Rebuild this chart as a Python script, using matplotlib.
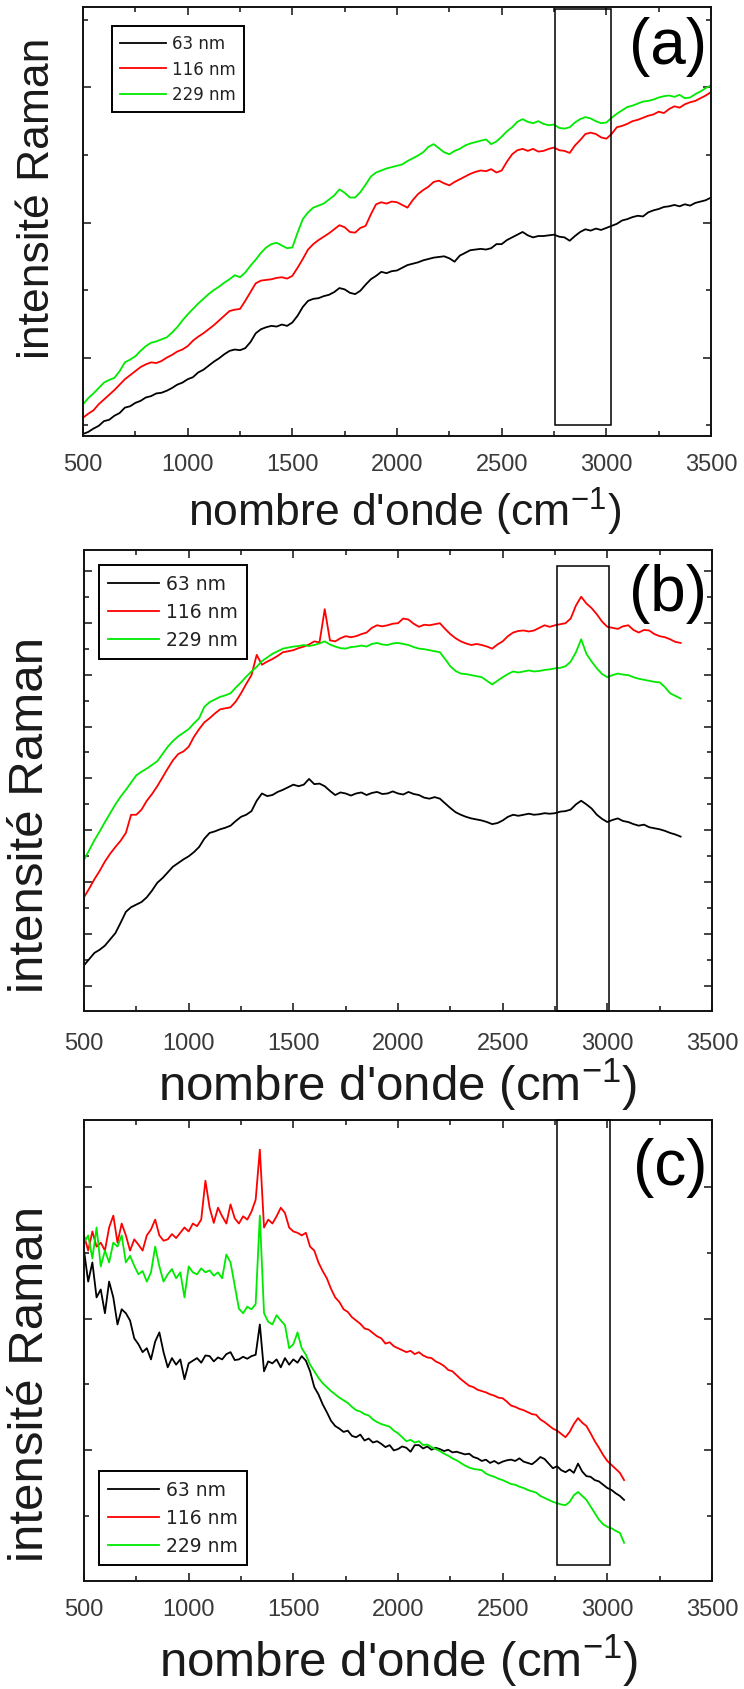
import numpy as np
import matplotlib
matplotlib.use("Agg")
import matplotlib.pyplot as plt
from matplotlib.patches import Rectangle
from matplotlib.ticker import FixedLocator, NullFormatter

plt.rcParams['font.family'] = ['Liberation Sans', 'DejaVu Sans']
plt.rcParams['mathtext.fontset'] = 'custom'
plt.rcParams['mathtext.rm'] = 'Liberation Sans'
plt.rcParams['mathtext.it'] = 'Liberation Sans:italic'
plt.rcParams['mathtext.bf'] = 'Liberation Sans:bold'

# ---------------------------------------------------------------- data
series_labels = ['63 nm', '116 nm', '229 nm']
series_colors = ['#000000', '#ff0000', '#00ea00']

x_ticks = [500, 1000, 1500, 2000, 2500, 3000, 3500]
x_tick_labels = ['500', '1000', '1500', '2000', '2500', '3000', '3500']
x_minor_ticks = [750, 1250, 1750, 2250, 2750, 3250]

# panel (a): spectra sampled every 25 cm-1 from 500 cm-1
a_start, a_step = 500, 25
a_63 = [-0.13, -0.10, -0.05, -0.01, 0.06, 0.08, 0.14, 0.18, 0.26, 0.28,
        0.33, 0.36, 0.41, 0.43, 0.47, 0.48, 0.51, 0.55, 0.60, 0.63,
        0.68, 0.71, 0.78, 0.82, 0.88, 0.94, 0.99, 1.05, 1.10, 1.12,
        1.11, 1.14, 1.23, 1.36, 1.42, 1.45, 1.47, 1.46, 1.49, 1.47,
        1.52, 1.62, 1.75, 1.84, 1.87, 1.88, 1.91, 1.93, 1.97, 2.03,
        2.01, 1.96, 1.94, 1.99, 2.08, 2.16, 2.21, 2.27, 2.25, 2.28,
        2.29, 2.33, 2.37, 2.39, 2.41, 2.44, 2.46, 2.48, 2.49, 2.50,
        2.47, 2.42, 2.51, 2.55, 2.59, 2.60, 2.61, 2.60, 2.62, 2.68,
        2.68, 2.74, 2.78, 2.82, 2.86, 2.81, 2.78, 2.80, 2.80, 2.81,
        2.82, 2.79, 2.78, 2.73, 2.80, 2.86, 2.90, 2.88, 2.91, 2.89,
        2.92, 2.95, 2.98, 3.03, 3.05, 3.08, 3.10, 3.09, 3.15, 3.18,
        3.20, 3.23, 3.24, 3.26, 3.24, 3.27, 3.25, 3.29, 3.31, 3.33, 3.37]
a_116 = [0.11, 0.17, 0.22, 0.31, 0.38, 0.45, 0.52, 0.60, 0.68, 0.74,
         0.80, 0.86, 0.90, 0.93, 0.92, 0.95, 1.00, 1.04, 1.09, 1.12,
         1.17, 1.25, 1.31, 1.36, 1.42, 1.48, 1.55, 1.62, 1.69, 1.71,
         1.72, 1.84, 1.97, 2.10, 2.14, 2.15, 2.16, 2.18, 2.19, 2.17,
         2.21, 2.33, 2.46, 2.60, 2.68, 2.74, 2.79, 2.84, 2.90, 2.96,
         2.93, 2.86, 2.85, 2.92, 2.95, 3.12, 3.27, 3.30, 3.28, 3.31,
         3.30, 3.26, 3.22, 3.33, 3.42, 3.48, 3.53, 3.60, 3.62, 3.58,
         3.55, 3.60, 3.64, 3.68, 3.72, 3.75, 3.77, 3.76, 3.79, 3.74,
         3.77, 3.90, 4.01, 4.07, 4.09, 4.06, 4.09, 4.05, 4.06, 4.09,
         4.11, 4.07, 4.06, 4.03, 4.14, 4.22, 4.31, 4.33, 4.31, 4.26,
         4.24, 4.31, 4.41, 4.43, 4.46, 4.50, 4.52, 4.55, 4.58, 4.60,
         4.64, 4.62, 4.68, 4.72, 4.70, 4.75, 4.78, 4.80, 4.84, 4.88, 4.93]
a_229 = [0.31, 0.40, 0.47, 0.55, 0.63, 0.67, 0.70, 0.80, 0.93, 0.97,
         1.02, 1.10, 1.17, 1.22, 1.24, 1.27, 1.30, 1.37, 1.45, 1.55,
         1.64, 1.72, 1.80, 1.87, 1.94, 2.00, 2.05, 2.11, 2.16, 2.22,
         2.19, 2.26, 2.36, 2.45, 2.55, 2.63, 2.68, 2.70, 2.66, 2.62,
         2.63, 2.85, 3.05, 3.15, 3.22, 3.25, 3.28, 3.34, 3.40, 3.49,
         3.44, 3.37, 3.37, 3.45, 3.56, 3.68, 3.74, 3.77, 3.80, 3.82,
         3.84, 3.86, 3.91, 3.95, 3.99, 4.04, 4.12, 4.16, 4.10, 4.04,
         4.01, 4.06, 4.09, 4.14, 4.17, 4.19, 4.21, 4.23, 4.16, 4.20,
         4.27, 4.35, 4.41, 4.49, 4.53, 4.49, 4.47, 4.50, 4.46, 4.44,
         4.45, 4.40, 4.39, 4.41, 4.48, 4.53, 4.56, 4.54, 4.50, 4.47,
         4.48, 4.55, 4.61, 4.66, 4.71, 4.73, 4.76, 4.79, 4.80, 4.82,
         4.85, 4.87, 4.88, 4.86, 4.89, 4.84, 4.85, 4.90, 4.94, 4.99, 5.03]

# panel (b): spectra sampled every 25 cm-1 from 500 cm-1
b_start, b_step = 500, 25
b_63 = [0.40, 0.52, 0.64, 0.70, 0.78, 0.90, 1.02, 1.22, 1.43, 1.52,
        1.57, 1.62, 1.71, 1.84, 1.99, 2.08, 2.19, 2.30, 2.37, 2.44,
        2.50, 2.58, 2.68, 2.84, 2.95, 2.98, 3.02, 3.05, 3.09, 3.18,
        3.26, 3.30, 3.37, 3.57, 3.71, 3.66, 3.68, 3.74, 3.78, 3.83,
        3.88, 3.85, 3.88, 3.99, 3.89, 3.90, 3.85, 3.76, 3.68, 3.73,
        3.71, 3.67, 3.71, 3.73, 3.68, 3.72, 3.74, 3.70, 3.71, 3.75,
        3.71, 3.69, 3.74, 3.70, 3.68, 3.63, 3.61, 3.64, 3.61, 3.52,
        3.43, 3.35, 3.30, 3.26, 3.23, 3.21, 3.19, 3.16, 3.12, 3.14,
        3.19, 3.26, 3.30, 3.28, 3.30, 3.32, 3.30, 3.31, 3.33, 3.32,
        3.33, 3.36, 3.37, 3.40, 3.50, 3.57, 3.50, 3.42, 3.30, 3.22,
        3.16, 3.20, 3.23, 3.18, 3.16, 3.12, 3.09, 3.11, 3.06, 3.04,
        3.02, 2.99, 2.95, 2.92, 2.88]
b_116 = [1.71, 1.88, 2.06, 2.22, 2.40, 2.55, 2.68, 2.80, 2.95, 3.30,
         3.30, 3.40, 3.57, 3.70, 3.85, 4.02, 4.19, 4.35, 4.47, 4.52,
         4.61, 4.80, 4.95, 5.08, 5.16, 5.25, 5.33, 5.35, 5.37, 5.48,
         5.64, 5.82, 5.99, 6.38, 6.19, 6.25, 6.30, 6.36, 6.43, 6.45,
         6.47, 6.51, 6.54, 6.58, 6.64, 6.62, 7.26, 6.66, 6.64, 6.70,
         6.74, 6.72, 6.74, 6.78, 6.81, 6.90, 6.95, 6.93, 6.95, 6.98,
         6.99, 7.08, 7.06, 6.98, 6.92, 6.96, 6.95, 6.97, 6.99, 6.88,
         6.78, 6.70, 6.64, 6.60, 6.57, 6.59, 6.57, 6.54, 6.50, 6.58,
         6.64, 6.74, 6.81, 6.84, 6.85, 6.83, 6.85, 6.90, 6.95, 6.92,
         6.95, 6.97, 6.99, 7.08, 7.33, 7.50, 7.37, 7.28, 7.16, 7.02,
         6.92, 6.90, 6.88, 6.93, 6.95, 6.86, 6.81, 6.86, 6.85, 6.78,
         6.74, 6.72, 6.68, 6.63, 6.61]
b_229 = [2.43, 2.62, 2.81, 2.98, 3.16, 3.33, 3.50, 3.65, 3.78, 3.92,
         4.06, 4.13, 4.19, 4.26, 4.33, 4.47, 4.61, 4.72, 4.81, 4.88,
         4.95, 5.06, 5.16, 5.38, 5.47, 5.52, 5.57, 5.60, 5.64, 5.75,
         5.85, 5.96, 6.06, 6.15, 6.26, 6.33, 6.40, 6.45, 6.50, 6.52,
         6.54, 6.55, 6.57, 6.55, 6.57, 6.60, 6.64, 6.58, 6.54, 6.51,
         6.50, 6.53, 6.54, 6.56, 6.54, 6.59, 6.61, 6.58, 6.57, 6.60,
         6.61, 6.59, 6.57, 6.53, 6.50, 6.49, 6.47, 6.45, 6.43, 6.30,
         6.16, 6.07, 6.02, 6.01, 5.99, 5.97, 5.95, 5.88, 5.81, 5.88,
         5.95, 6.01, 6.06, 6.04, 6.06, 6.08, 6.06, 6.07, 6.09, 6.10,
         6.12, 6.13, 6.16, 6.25, 6.43, 6.68, 6.40, 6.25, 6.12, 6.01,
         5.95, 5.99, 6.02, 6.00, 5.99, 5.95, 5.92, 5.90, 5.88, 5.86,
         5.85, 5.76, 5.64, 5.59, 5.54]

# panel (c): spectra sampled every 20 cm-1 from 500 cm-1
c_start, c_step = 500, 20
c_63 = [4.03, 3.56, 3.85, 3.32, 3.44, 3.08, 3.56, 3.32, 2.91, 3.14,
        3.08, 2.97, 2.70, 2.61, 2.49, 2.55, 2.38, 2.65, 2.79, 2.49,
        2.26, 2.40, 2.30, 2.38, 2.08, 2.32, 2.36, 2.40, 2.33, 2.44,
        2.43, 2.35, 2.41, 2.38, 2.46, 2.49, 2.37, 2.38, 2.42, 2.39,
        2.43, 2.45, 2.91, 2.20, 2.35, 2.32, 2.38, 2.26, 2.40, 2.30,
        2.38, 2.33, 2.43, 2.36, 2.20, 1.96, 1.85, 1.70, 1.58, 1.45,
        1.37, 1.33, 1.28, 1.30, 1.22, 1.20, 1.24, 1.15, 1.18, 1.12,
        1.14, 1.10, 1.05, 1.08, 1.00, 1.02, 1.06, 1.04, 0.98, 1.08,
        1.08, 1.03, 1.06, 1.01, 1.04, 1.02, 0.99, 1.01, 0.97, 0.98,
        0.96, 0.94, 0.95, 0.90, 0.88, 0.84, 0.86, 0.81, 0.84, 0.80,
        0.83, 0.85, 0.86, 0.84, 0.88, 0.83, 0.81, 0.79, 0.84, 0.90,
        0.87, 0.80, 0.73, 0.76, 0.70, 0.67, 0.71, 0.66, 0.80, 0.68,
        0.61, 0.60, 0.55, 0.53, 0.48, 0.43, 0.40, 0.35, 0.31, 0.25]
c_116 = [4.26, 4.03, 4.32, 4.09, 4.15, 4.03, 4.38, 4.56, 4.15, 4.44,
         4.26, 4.03, 4.20, 4.12, 4.03, 4.26, 4.35, 4.50, 4.26, 4.18,
         4.20, 4.28, 4.22, 4.30, 4.38, 4.32, 4.44, 4.40, 4.50, 5.09,
         4.68, 4.45, 4.68, 4.55, 4.44, 4.73, 4.52, 4.44, 4.55, 4.50,
         4.62, 4.80, 5.56, 4.38, 4.50, 4.44, 4.55, 4.68, 4.60, 4.38,
         4.32, 4.30, 4.26, 4.30, 4.09, 4.03, 3.85, 3.72, 3.61, 3.45,
         3.32, 3.25, 3.14, 3.10, 3.02, 2.97, 2.92, 2.85, 2.83, 2.78,
         2.73, 2.70, 2.62, 2.64, 2.58, 2.55, 2.52, 2.49, 2.51, 2.46,
         2.49, 2.44, 2.41, 2.40, 2.35, 2.32, 2.28, 2.22, 2.20, 2.14,
         2.08, 2.03, 1.98, 1.96, 1.92, 1.90, 1.88, 1.85, 1.83, 1.80,
         1.79, 1.74, 1.68, 1.66, 1.63, 1.61, 1.58, 1.55, 1.54, 1.47,
         1.43, 1.38, 1.33, 1.30, 1.25, 1.20, 1.28, 1.40, 1.49, 1.42,
         1.37, 1.26, 1.14, 1.04, 0.93, 0.84, 0.78, 0.72, 0.66, 0.55]
c_229 = [4.15, 4.26, 3.91, 4.38, 3.79, 4.03, 3.85, 4.15, 4.09, 4.26,
         3.85, 3.95, 3.80, 3.67, 3.72, 3.56, 3.70, 4.09, 3.79, 3.56,
         3.67, 3.75, 3.61, 3.70, 3.32, 3.79, 3.70, 3.67, 3.76, 3.70,
         3.73, 3.65, 3.70, 3.61, 3.97, 3.85, 3.50, 3.15, 3.08, 3.18,
         3.14, 3.22, 4.56, 3.08, 2.95, 2.91, 3.05, 2.97, 2.90, 2.55,
         2.61, 2.79, 2.55, 2.45, 2.30, 2.20, 2.10, 2.02, 1.96, 1.90,
         1.85, 1.80, 1.76, 1.72, 1.66, 1.61, 1.59, 1.55, 1.53, 1.47,
         1.43, 1.40, 1.38, 1.36, 1.30, 1.26, 1.20, 1.14, 1.16, 1.12,
         1.14, 1.08, 1.09, 1.05, 1.02, 0.99, 0.95, 0.92, 0.88, 0.85,
         0.81, 0.77, 0.74, 0.72, 0.71, 0.70, 0.65, 0.62, 0.60, 0.57,
         0.55, 0.52, 0.49, 0.48, 0.45, 0.43, 0.40, 0.38, 0.36, 0.31,
         0.28, 0.25, 0.22, 0.20, 0.18, 0.17, 0.22, 0.32, 0.37, 0.31,
         0.25, 0.15, 0.05, -0.05, -0.12, -0.16, -0.18, -0.22, -0.25, -0.40]

# ---------------------------------------------------------------- layout
W, H = 744, 1690
fig = plt.figure(figsize=(W / 100, H / 100), dpi=100)


def frac_rect(left, top, right, bottom):
    return [left / W, 1 - bottom / H, (right - left) / W, (bottom - top) / H]


panels = [
    dict(tag='(a)', start=a_start, step=a_step, ys=[a_63, a_116, a_229],
         box=(83, 8, 711, 437), ylim=(-0.16, 6.19),
         y_major=[1, 3, 5], y_minor=[0, 2, 4, 6],
         window=(2757, 3022, 0.0, 6.16),
         tag_xy=(668, 47), label_size=32, xlabel_base=527, xlabel_x=405,
         ylabel_xy=(38, 198), pad=12.5, leg_size=12,
         leg_xy=(112, 27), leg_spacing=0.45, leg_hl=2.75),
    dict(tag='(b)', start=b_start, step=b_step, ys=[b_63, b_116, b_229],
         box=(84, 551, 712, 1012), ylim=(-0.48, 8.40),
         y_major=[0, 1, 2, 3, 4, 5, 6, 7, 8],
         y_minor=[0.5, 1.5, 2.5, 3.5, 4.5, 5.5, 6.5, 7.5],
         window=(2760, 3010, -0.48, 8.10),
         tag_xy=(668, 594), label_size=35.5, xlabel_base=1101, xlabel_x=398,
         ylabel_xy=(31, 815), pad=15, leg_size=13.5,
         leg_xy=(99, 566), leg_spacing=0.48, leg_hl=2.7),
    dict(tag='(c)', start=c_start, step=c_step, ys=[c_63, c_116, c_229],
         box=(84, 1121, 712, 1582), ylim=(-0.98, 6.01),
         y_major=[1, 3, 5], y_minor=[0, 2, 4],
         window=(2758, 3015, -0.74, 6.01),
         tag_xy=(670, 1168), label_size=35.5, xlabel_base=1677, xlabel_x=399,
         ylabel_xy=(31, 1384), pad=12.5, leg_size=13.5,
         leg_xy=(99, 1472), leg_spacing=0.48, leg_hl=2.7),
]

text_color = '#1a1a1a'

for p in panels:
    ax = fig.add_axes(frac_rect(*p['box']))
    for ys, lab, col in zip(p['ys'], series_labels, series_colors):
        xs = p['start'] + p['step'] * np.arange(len(ys))
        ax.plot(xs, ys, color=col, lw=1.3, label=lab)

    ax.set_xlim(500, 3500)
    ax.set_ylim(*p['ylim'])

    x0, x1, y0, y1 = p['window']
    ax.add_patch(Rectangle((x0, y0), x1 - x0, y1 - y0, fill=False,
                           edgecolor='black', lw=1.1, zorder=4,
                           clip_on=False))

    ax.set_xticks(x_ticks, labels=x_tick_labels)
    ax.xaxis.set_minor_locator(FixedLocator(x_minor_ticks))
    ax.yaxis.set_major_locator(FixedLocator(p['y_major']))
    ax.yaxis.set_minor_locator(FixedLocator(p['y_minor']))
    ax.yaxis.set_major_formatter(NullFormatter())
    ax.tick_params(which='both', direction='in', top=True, right=True,
                   color='#111111')
    ax.tick_params(which='major', length=5.8, width=1.1)
    ax.tick_params(which='minor', length=3.6, width=1.1)
    ax.tick_params(axis='x', labelsize=17, labelcolor='#3a3a3a',
                   pad=p['pad'])
    for sp in ax.spines.values():
        sp.set_linewidth(1.4)
        sp.set_color('#111111')

    lx, ly = p['leg_xy']
    leg = ax.legend(loc='upper left', bbox_to_anchor=(lx / W, 1 - ly / H),
                    bbox_transform=fig.transFigure, borderaxespad=0,
                    fancybox=False, framealpha=1, edgecolor='black',
                    prop=dict(family='DejaVu Sans', size=p['leg_size']),
                    handlelength=p['leg_hl'], handletextpad=0.35,
                    labelspacing=p['leg_spacing'], borderpad=0.5)
    leg.get_frame().set_linewidth(1.4)
    for t in leg.get_texts():
        t.set_color('#222222')

    fig.text(p['tag_xy'][0] / W, 1 - p['tag_xy'][1] / H, p['tag'],
             fontsize=46, ha='center', va='center', color='black')
    fig.text(p['xlabel_x'] / W, 1 - p['xlabel_base'] / H,
             r"nombre d'onde (cm$^{\mathregular{-1}}$)",
             fontsize=p['label_size'], ha='center', va='baseline',
             color=text_color)
    fig.text(p['ylabel_xy'][0] / W, 1 - p['ylabel_xy'][1] / H,
             'intensité Raman', rotation=90, fontsize=p['label_size'],
             ha='center', va='center', color=text_color)

fig.savefig('out.png', dpi=100)
